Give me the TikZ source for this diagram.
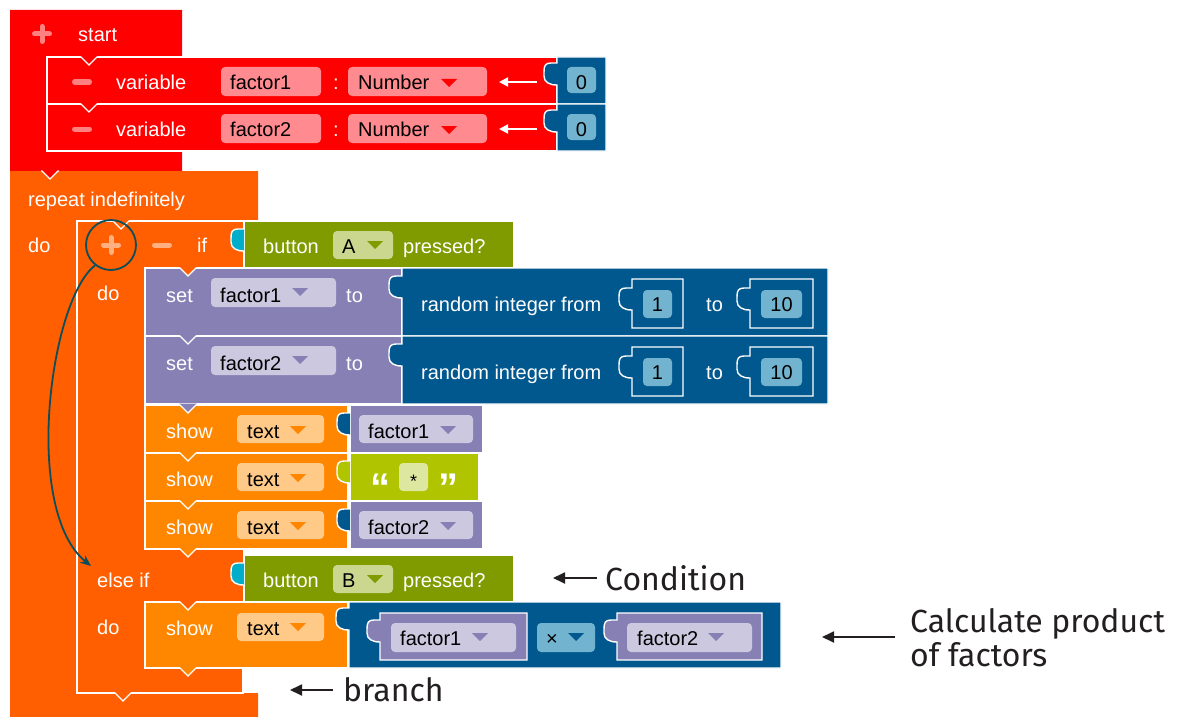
\documentclass[tikz,border=0pt]{standalone}
\usepackage{fontspec}
\setmainfont{Liberation Sans}
\newfontfamily\labfont{Fira Sans}
\usetikzlibrary{arrows.meta}
\definecolor{cRed}{HTML}{FF0000}
\definecolor{cPink}{HTML}{FF8A8F}
\definecolor{cPinkSym}{HTML}{FF8080}
\definecolor{cOrD}{HTML}{FF5F00}
\definecolor{cOrSym}{HTML}{FFAF80}
\definecolor{cOr}{HTML}{FF8700}
\definecolor{cOrF}{HTML}{FFCA88}
\definecolor{cPur}{HTML}{8780B5}
\definecolor{cPurF}{HTML}{CCC8DF}
\definecolor{cBlue}{HTML}{00588E}
\definecolor{cBlueF}{HTML}{72B4D0}
\definecolor{cOl}{HTML}{7F9B00}
\definecolor{cOlF}{HTML}{CBD78E}
\definecolor{cTeal}{HTML}{00AECA}
\definecolor{cLime}{HTML}{B0C400}
\definecolor{cLimeF}{HTML}{DEE79F}
\definecolor{cArr}{HTML}{0E4E5B}
\definecolor{cLab}{HTML}{231F20}
\newcounter{nn}
\newcommand\btext[4][white]{\stepcounter{nn}\node[txt,text=#1] (t\arabic{nn}) at (#2,#3) {#4};}
\newcommand\bctext[4][black]{\stepcounter{nn}\node[txt,anchor=base,text=#1] (t\arabic{nn}) at (#2,#3) {#4};}
\newcommand\bfield[5]{\fill[#5, rounded corners=4pt] (#1,#2) rectangle (#3,#4);}
\newcommand\btri[3]{\fill[#3] (#1,#2) -- ++(16,0) -- ++(-8,8) -- cycle;}
\newcommand\bval[6]{\path[fill=#1, wline] (#2,#3) -- (#2,#3+#6) -- (#2-6,#3+#6) .. controls (#2-12,#3+#6) and (#2-13,#3+#6+3) .. (#2-13,#3+#6+9) -- (#2-13,#3+#6+13) .. controls (#2-13,#3+#6+19) and (#2-8,#3+#6+22) .. (#2,#3+#6+22) -- (#2,#5) -- (#4,#5) -- (#4,#3) -- cycle;}
\newcommand\btab[3]{\path[fill=#1, wline] (#2,#3) -- (#2-6,#3) .. controls (#2-12,#3) and (#2-13,#3+3) .. (#2-13,#3+9) -- (#2-13,#3+13) .. controls (#2-13,#3+19) and (#2-8,#3+22) .. (#2,#3+22);}
\newcommand\bnotch[3]{\fill[#3] (#1-1,#2-1.5) -- (#1+8,#2+8) -- (#1+17,#2-1.5) -- cycle; \draw[wline] (#1-1,#2) -- (#1,#2) -- (#1+8,#2+8) -- (#1+16,#2) -- (#1+17,#2);}
\newcommand\bplus[3]{\draw[#3, line width=5pt, line cap=round] (#1-7.5,#2) -- (#1+7.5,#2) (#1,#2-7.5) -- (#1,#2+7.5);}
\newcommand\bminus[3]{\draw[#3, line width=5pt, line cap=round] (#1-7.5,#2) -- (#1+7.5,#2);}
\begin{document}
\begin{tikzpicture}[x=1pt,y=-1pt,
  txt/.style={inner sep=0pt, font=\fontsize{20}{24}\selectfont, anchor=base west},
  wline/.style={draw=white, line width=1.4pt},
  lab/.style={inner sep=0pt, font=\labfont\fontsize{32}{36}\selectfont, anchor=base west, text=cLab},
  larrow/.style={draw=cLab, line width=1.8pt, -{Triangle[length=12pt,width=11pt]}},
  warrow/.style={draw=white, line width=2pt, -{Triangle[length=9pt,width=9pt]}},
  quote/.style={inner sep=0pt, anchor=base, text=white, font=\bfseries\fontsize{40}{42}\selectfont},
]
\useasboundingbox (0,0) rectangle (1178,717);
\fill[white] (0,0) rectangle (1178,717);

% ---- start block
\fill[cRed] (10,10) -- (182,10) -- (182,57) -- (47,57) -- (47,151) -- (182,151) -- (182,171) -- (10,171) -- cycle;
\bplus{42}{34}{cPinkSym}
\btext{78}{42}{start}
\foreach \dy/\v in {0/factor1, 47/factor2}{
  \path[fill=cRed, wline] (47,57+\dy) rectangle (557,104+\dy);
  \bval{cBlue}{557}{57+\dy}{606}{104+\dy}{6}
  \bfield{567}{67+\dy}{596}{93+\dy}{cBlueF}
  \bctext{581.5}{89+\dy}{0}
  \bminus{82}{82+\dy}{cPinkSym}
  \btext{116}{89+\dy}{variable}
  \bfield{221}{67+\dy}{321}{96+\dy}{cPink}
  \btext[black]{230}{89+\dy}{\v}
  \btext{333}{89+\dy}{:}
  \bfield{348}{67+\dy}{487}{96+\dy}{cPink}
  \btext[black]{358}{89+\dy}{Number}
  \btri{441}{79+\dy}{cRed}
}
\coordinate (w1s) at (537,82); \coordinate (w1e) at (499,82);
\coordinate (w2s) at (537,129); \coordinate (w2e) at (499,129);
\draw[warrow] (w1s) -- (w1e);
\draw[warrow] (w2s) -- (w2e);
\bnotch{81}{57}{cRed}
\bnotch{81}{104}{cRed}

% ---- repeat block
\fill[cOrD] (10,171) -- (258,171) -- (258,221) -- (77,221) -- (77,693) -- (258,693) -- (258,717) -- (10,717) -- cycle;
\bnotch{42}{171}{cRed}
\btext{28}{206}{repeat indefinitely}
\btext{28}{252}{do}

% ---- if block
\path[fill=cOrD, wline] (77,221) -- (244,221) -- (244,268) -- (145,268) -- (145,549) -- (244,549) -- (244,602) -- (145,602) -- (145,668) -- (243,668) -- (243,693) -- (77,693) -- cycle;
\bnotch{113}{221}{cOrD}
\bplus{111}{245}{cOrSym}
\bminus{162}{245}{cOrSym}
\btext{197}{252}{if}
\btext{97}{300}{do}
\btext{97}{587}{else if}
\btext{97}{634}{do}

% condition A
\path[fill=cOl, wline] (244,221) rectangle (514,268);
\btab{cTeal}{244}{229}
\btext{263}{253}{button}
\bfield{333}{231}{393}{259}{cOlF}
\btext[black]{342}{253}{A}
\btri{367}{241}{cOl}
\btext{403}{253}{pressed?}

% set blocks
\foreach \dy/\v in {0/factor1, 68/factor2}{
  \path[fill=cPur, wline] (145,268+\dy) rectangle (402,336+\dy);
  \btext{166}{302+\dy}{set}
  \bfield{211}{278+\dy}{336}{307+\dy}{cPurF}
  \btext[black]{220}{302+\dy}{\v}
  \btri{292}{288+\dy}{cPur}
  \btext{346}{302+\dy}{to}
  \bval{cBlue}{402}{268+\dy}{828}{336+\dy}{8}
  \btext{421}{311+\dy}{random integer from}
  \bval{cBlue}{632}{279+\dy}{683}{328+\dy}{9}
  \bfield{643}{290+\dy}{672}{318+\dy}{cBlueF}
  \bctext{657.5}{311+\dy}{1}
  \btext{706}{311+\dy}{to}
  \bval{cBlue}{750}{279+\dy}{813}{328+\dy}{9}
  \bfield{761}{290+\dy}{802}{318+\dy}{cBlueF}
  \bctext{781.5}{311+\dy}{10}
}
\bnotch{180}{268}{cOrD}
\bnotch{180}{336}{cPur}

% show blocks
\foreach \dy in {0,48,96}{
  \path[fill=cOr, wline] (145,405+\dy) rectangle (348,453+\dy);
  \btext{166}{438+\dy}{show}
  \bfield{237}{415+\dy}{324}{443+\dy}{cOrF}
  \btext[black]{247}{438+\dy}{text}
  \btri{290}{426+\dy}{cOr}
}
\bnotch{180}{405}{cPur}
\bnotch{180}{453}{cOr}
\bnotch{180}{501}{cOr}
\bnotch{180}{549}{cOr}
% value factor1
\path[fill=cPur, wline] (350,405) rectangle (483,453);
\btab{cBlue}{350}{413}
\bfield{359}{415}{473}{443}{cPurF}
\btext[black]{368}{438}{factor1}
\btri{440}{426}{cPur}
% text value
\path[fill=cLime, wline] (350,453) rectangle (479,501);
\btab{cLime}{350}{461}
\bfield{399}{463}{428}{491}{cLimeF}
\node[inner sep=0pt, anchor=base, font=\fontsize{18}{20}\selectfont] (star) at (413.5,487) {*};
\node[quote] (q1) at (380,501) {“};
\node[quote] (q2) at (448,501) {”};
% value factor2
\path[fill=cPur, wline] (350,501) rectangle (483,549);
\btab{cBlue}{350}{509}
\bfield{359}{511}{473}{539}{cPurF}
\btext[black]{368}{534}{factor2}
\btri{440}{522}{cPur}

% condition B
\path[fill=cOl, wline] (244,555) rectangle (514,602);
\btab{cTeal}{244}{563}
\btext{263}{587}{button}
\bfield{333}{565}{393}{593}{cOlF}
\btext[black]{342}{587}{B}
\btri{367}{575}{cOl}
\btext{403}{587}{pressed?}

% last show
\path[fill=cOr, wline] (145,602) rectangle (348,668);
\btext{166}{635}{show}
\bfield{237}{613}{324}{641}{cOrF}
\btext[black]{247}{635}{text}
\btri{290}{623}{cOr}
\bnotch{180}{602}{cOrD}
\bnotch{180}{668}{cOr}
\bnotch{115}{693}{cOrD}
% multiply
\bval{cBlue}{349}{602}{781}{668}{6}
\bval{cPur}{380}{613}{527}{660}{7}
\bfield{391}{623}{516}{652}{cPurF}
\btext[black]{400}{645}{factor1}
\btri{472}{633}{cPur}
\bfield{537}{623}{595}{652}{cBlueF}
\btext[black]{546}{645}{×}
\btri{568}{633}{cBlue}
\bval{cPur}{617}{613}{762}{660}{7}
\bfield{627}{623}{752}{652}{cPurF}
\btext[black]{637}{645}{factor2}
\btri{708}{633}{cPur}

% circle and curved arrow
\node[circle, draw=cArr, line width=1.8pt, minimum size=50pt, inner sep=0pt] (ring) at (111,245) {};
\coordinate (elsept) at (91,566);
\draw[cArr, line width=1.8pt, -{Stealth[length=11pt,width=9pt]}] (ring.232) .. controls (50,300) and (22,510) .. (elsept);

% labels
\node[lab] (cond) at (605,590) {Condition};
\coordinate (cA) at (597,578); \coordinate (cB) at (553,578);
\draw[larrow] (cA) -- (cB);
\node[lab] (branch) at (343,701) {branch};
\coordinate (bA) at (333,690); \coordinate (bB) at (290,690);
\draw[larrow] (bA) -- (bB);
\node[lab] (calc1) at (910,632) {Calculate product};
\node[lab] (calc2) at (910,666) {of factors};
\coordinate (pA) at (895,637); \coordinate (pB) at (822,637);
\draw[larrow] (pA) -- (pB);
\end{tikzpicture}
\end{document}
